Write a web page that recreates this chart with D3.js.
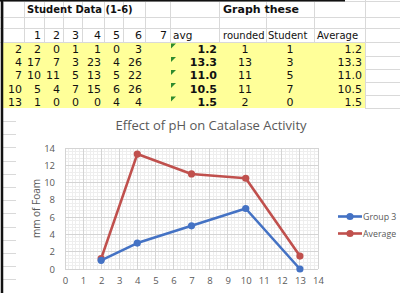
<!DOCTYPE html>
<html><head><meta charset="utf-8">
<script src="https://cdn.jsdelivr.net/npm/d3@7"></script>
<style>
html,body{margin:0;padding:0;background:#fff;overflow:hidden}
svg{display:block}
</style></head>
<body>
<script>
// ---- data ----
const phLevels = [2, 4, 7, 10, 13];
const studentCols = ["1", "2", "3", "4", "5", "6", "7"];
const studentData = [
  [2, 0, 1, 1, 0, 3],
  [17, 7, 3, 23, 4, 26],
  [10, 11, 5, 13, 5, 22],
  [5, 4, 7, 15, 6, 26],
  [1, 0, 0, 0, 4, 4]
];
const avgValues = [1.2, 13.3, 11.0, 10.5, 1.5];
const roundedValues = [1, 13, 11, 11, 2];
const group3 = [1, 3, 5, 7, 0];
const average = [1.2, 13.3, 11.0, 10.5, 1.5];
const seriesNames = ["Group 3", "Average"];
const xTicks = d3.range(0, 15, 1);
const yTicks = d3.range(0, 15, 2);

const W = 400, H = 293;
const svg = d3.select("body").append("svg").attr("width", W).attr("height", H);

// ---- spreadsheet ----
const sheetFont = "Verdana, 'DejaVu Sans', sans-serif";
const colEdges = [3, 24, 44, 63, 82, 104, 123, 145, 170, 219, 266, 314, 365, 400];
const rowEdges = [1, 17, 28, 42, 55.5, 68.5, 81.5, 95, 108];
const grid = "#d9d9d9";
svg.append("rect").attr("x", 0).attr("y", 0).attr("width", W).attr("height", H).attr("fill", "#fff");
svg.append("rect").attr("x", colEdges[0]).attr("y", rowEdges[3])
  .attr("width", colEdges[12] - colEdges[0]).attr("height", rowEdges[8] - rowEdges[3])
  .attr("fill", "#ffff99");
const g = svg.append("g").attr("stroke", grid).attr("stroke-width", 1).attr("shape-rendering", "crispEdges");
colEdges.forEach(x => {
  g.append("line").attr("x1", x + 0.5).attr("x2", x + 0.5).attr("y1", 0).attr("y2", rowEdges[3]);
  if (x >= colEdges[12]) g.append("line").attr("x1", x + 0.5).attr("x2", x + 0.5).attr("y1", rowEdges[3]).attr("y2", rowEdges[8]);
});
rowEdges.forEach((y, i) => {
  if (i <= 3) g.append("line").attr("x1", 0).attr("x2", W).attr("y1", y + 0.5).attr("y2", y + 0.5);
  else g.append("line").attr("x1", colEdges[12]).attr("x2", W).attr("y1", y + 0.5).attr("y2", y + 0.5);
});
for (let y = 108 + 13; y < H; y += 13.2) {
  g.append("line").attr("x1", 3).attr("x2", 16).attr("y1", Math.round(y) + 0.5).attr("y2", Math.round(y) + 0.5);
}
svg.append("line").attr("x1", 0).attr("x2", 345).attr("y1", 0.5).attr("y2", 0.5).attr("stroke", "#111").attr("stroke-width", 2);
svg.append("line").attr("x1", 2).attr("x2", 2).attr("y1", 0).attr("y2", H).attr("stroke", "#111").attr("stroke-width", 2.5);

const txt = (x, y, s, anchor, bold, size) => svg.append("text").attr("x", x).attr("y", y)
  .attr("text-anchor", anchor || "end").attr("font-family", sheetFont)
  .attr("font-size", size || 11).attr("font-weight", bold ? "bold" : "normal")
  .attr("fill", "#111").text(s);

txt(27, 13, "Student Data (1-6)", "start", true, 10);
txt(223, 13, "Graph these", "start", true, 11);
studentCols.forEach((c, i) => txt(colEdges[i + 2] - 3, 39, c));
txt(173, 39, "avg", "start", false, 10.5);
txt(223, 39, "rounded", "start", false, 10);
txt(268, 39, "Student", "start", false, 10);
txt(317, 39, "Average", "start", false, 10);
phLevels.forEach((p, r) => {
  const y = rowEdges[4 + r] - 2.5;
  txt(colEdges[1] - 2, y, p);
  studentData[r].forEach((v, i) => txt(colEdges[i + 2] - 3, y, v));
  txt(colEdges[9] - 2, y, avgValues[r].toFixed(1), "end", true);
  txt(245, y, roundedValues[r], "middle");
  txt(290, y, group3[r], "middle");
  txt(colEdges[12] - 3, y, average[r].toFixed(1), "end");
  const ty = rowEdges[3 + r] + 1.5;
  svg.append("path").attr("d", `M171,${ty}h5l-5,5z`).attr("fill", "#2e8b2e");
});

// ---- chart ----
svg.append("rect").attr("x", 16).attr("y", 109).attr("width", W - 16).attr("height", H - 109).attr("fill", "#fff");
const chartFont = "'Open Sans', 'Liberation Sans', sans-serif";
const x = d3.scaleLinear().domain([0, 14]).range([65, 318]);
const y = d3.scaleLinear().domain([0, 14]).range([269, 148]);

const cg = svg.append("g").attr("shape-rendering", "crispEdges");
d3.range(0, 14.001, 0.2).forEach(v => cg.append("line").attr("x1", x(v)).attr("x2", x(v)).attr("y1", y(0)).attr("y2", y(14)).attr("stroke", "#eeeeee"));
d3.range(0, 14.001, 0.4).forEach(v => cg.append("line").attr("y1", y(v)).attr("y2", y(v)).attr("x1", x(0)).attr("x2", x(14)).attr("stroke", "#eeeeee"));
xTicks.forEach(v => cg.append("line").attr("x1", x(v)).attr("x2", x(v)).attr("y1", y(0)).attr("y2", y(14)).attr("stroke", "#d4d4d4"));
yTicks.forEach(v => cg.append("line").attr("y1", y(v)).attr("y2", y(v)).attr("x1", x(0)).attr("x2", x(14)).attr("stroke", "#d4d4d4"));

const xAxis = svg.append("g").attr("transform", `translate(0,${y(0)})`)
  .call(d3.axisBottom(x).tickValues(xTicks).tickSize(0).tickPadding(8));
const yAxis = svg.append("g").attr("transform", `translate(${x(0)},0)`)
  .call(d3.axisLeft(y).tickValues(yTicks).tickSize(0).tickPadding(10));
[xAxis, yAxis].forEach(a => {
  a.select(".domain").remove();
  a.selectAll("text").attr("font-family", chartFont).attr("font-size", 9.5).attr("fill", "#595959");
});

svg.append("text").attr("x", 211).attr("y", 130).attr("text-anchor", "middle")
  .attr("font-family", chartFont).attr("font-size", 13).attr("fill", "#595959")
  .text("Effect of pH on Catalase Activity");
svg.append("text").attr("transform", `translate(40,${(y(0) + y(14)) / 2}) rotate(-90)`)
  .attr("text-anchor", "middle").attr("font-family", chartFont).attr("font-size", 10).attr("fill", "#595959")
  .text("mm of Foam");

const colors = ["#4472c4", "#c0504d"];
const seriesData = [group3, average];
const line = d3.line().x((d, i) => x(phLevels[i])).y(d => y(d));
[1, 0].forEach(s => {
  svg.append("path").datum(seriesData[s]).attr("d", line).attr("fill", "none")
    .attr("stroke", colors[s]).attr("stroke-width", 2.6).attr("stroke-linejoin", "round");
  svg.selectAll(null).data(seriesData[s]).enter().append("circle")
    .attr("cx", (d, i) => x(phLevels[i])).attr("cy", d => y(d)).attr("r", 3.6).attr("fill", colors[s]);
});

seriesNames.forEach((n, i) => {
  const ly = 216.5 + i * 17;
  svg.append("line").attr("x1", 338).attr("x2", 362).attr("y1", ly).attr("y2", ly)
    .attr("stroke", colors[i]).attr("stroke-width", 2.6);
  svg.append("circle").attr("cx", 350).attr("cy", ly).attr("r", 3.6).attr("fill", colors[i]);
  svg.append("text").attr("x", 363).attr("y", ly + 3.5).attr("font-family", chartFont)
    .attr("font-size", 8.8).attr("fill", "#595959").text(n);
});
</script>
</body></html>
